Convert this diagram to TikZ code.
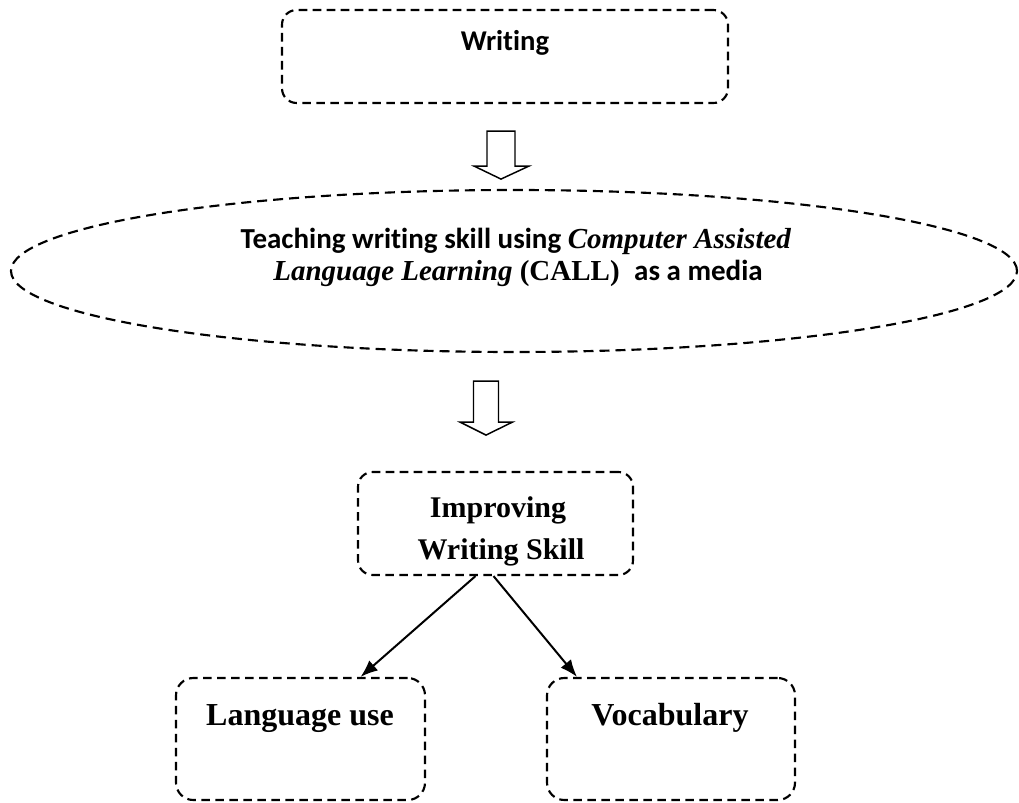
\documentclass[tikz,border=0pt]{standalone}
\usepackage{fontspec}
\setmainfont{Liberation Serif}
\newfontfamily\calfont[Ligatures=NoCommon]{Carlito}
\usetikzlibrary{shapes.geometric,fit,calc,arrows.meta}
\begin{document}
\begin{tikzpicture}[x=0.75pt,y=-0.75pt,
  dbox/.style={draw, line width=1.6pt, dash pattern=on 6.5pt off 4pt, rounded corners=11pt, inner sep=0pt},
  dell/.style={draw, ellipse, line width=1.6pt, dash pattern=on 7.5pt off 4.5pt, inner sep=0pt},
  blockarrow/.style={draw, line width=1.1pt, line join=miter, fill=white},
  conn/.style={line width=1.5pt, -{Latex[length=13pt,width=10pt]}},
  calbold/.style={font=\calfont\bfseries\fontsize{21.5}{25}\selectfont},
  ellfont/.style={font=\fontsize{21.75}{25}\selectfont},
  timesbig/.style={font=\bfseries\fontsize{22.5}{26}\selectfont},
  timesbot/.style={font=\bfseries\fontsize{24}{28}\selectfont}]
\useasboundingbox (0,0) rectangle (1019,802);

% boxes
\node[dbox, fit={(282,10) (728,103)}] (writing) {};
\node[dell, minimum width=754.5pt, minimum height=121.5pt] (call) at (514,271) {};
\node[dbox, fit={(358,472) (633,575)}] (improve) {};
\node[dbox, rounded corners=13pt, fit={(176,678) (425,800)}] (lang) {};
\node[dbox, rounded corners=13pt, fit={(547,678) (795,800)}] (vocab) {};

% texts
\node[calbold, anchor=base, inner sep=0pt] (twriting) at (505,51) {Writing};
\node[ellfont, anchor=base, inner sep=0pt] (tcall1) at (516,248)
  {{\calfont\bfseries Teaching writing skill using }\textbf{\textit{Computer Assisted}}};
\node[ellfont, anchor=base, inner sep=0pt] (tcall2) at (518,280)
  {\textbf{\textit{Language Learning}} \textbf{(CALL)}\ \ {\calfont\bfseries as a media}};
\node[timesbig, anchor=base, inner sep=0pt] (timp1) at (498,517) {Improving};
\node[timesbig, anchor=base, inner sep=0pt] (timp2) at (501,559) {Writing Skill};
\node[timesbot, anchor=base, inner sep=0pt] (tlang) at (300,725) {Language use};
\node[timesbot, anchor=base, inner sep=0pt] (tvocab) at (670,725) {Vocabulary};

% block arrows
\coordinate (ba1) at ($(writing.south)+(-4,27)$);
\draw[blockarrow] ($(ba1)+(-14,0)$) -- ++(28,0) -- ++(0,35) -- ++(14,0) -- ($(ba1)+(0,48)$)
  -- ($(ba1)+(-27,35)$) -- ++(13,0) -- cycle;
\coordinate (ba2) at ($(call.south)+(-28,28)$);
\draw[blockarrow] ($(ba2)+(-12.5,0)$) -- ++(25,0) -- ++(0,41) -- ++(14,0) -- ($(ba2)+(0,54)$)
  -- ($(ba2)+(-26,41)$) -- ++(13.5,0) -- cycle;

% connectors
\draw[conn] ($(improve.south)+(-20,0)$) -- ($(lang.north)+(60,0)$);
\draw[conn] ($(improve.south)+(-2,0)$) -- ($(vocab.north)+(-94,0)$);
\end{tikzpicture}
\end{document}
